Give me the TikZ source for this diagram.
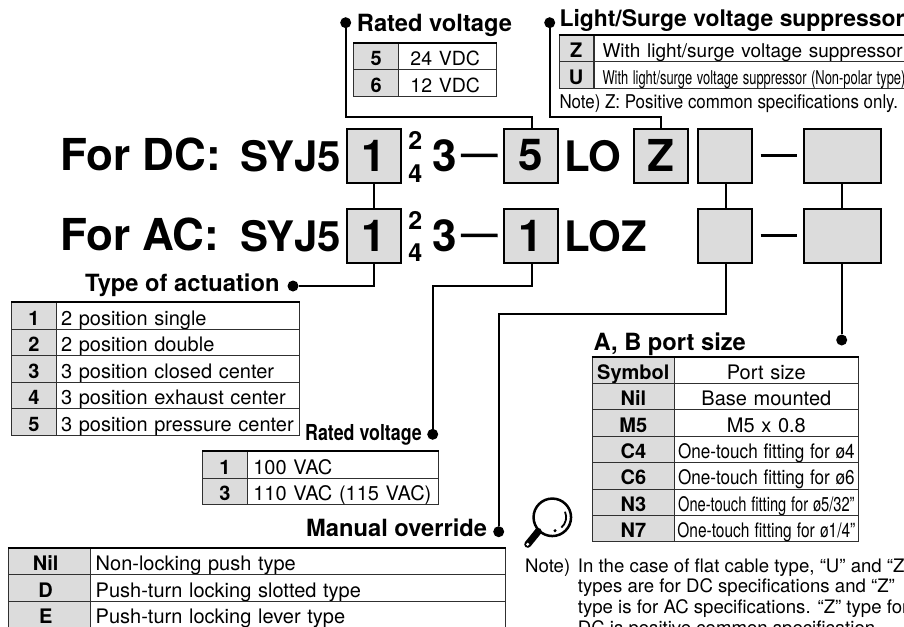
\documentclass[tikz,border=0pt]{standalone}
\usepackage{fontspec}
\setmainfont{TeX Gyre Heros}
\tikzset{
    bigtext/.style={font=\fontsize{44}{44}\selectfont\bfseries, inner sep=0pt, anchor=base west},
    codetext/.style={font=\fontsize{42}{42}\selectfont\bfseries, inner sep=0pt, anchor=base west},
    smalltext/.style={font=\fontsize{25}{25}\selectfont\bfseries, inner sep=0pt},
    head/.style={font=\fontsize{23.7}{24}\selectfont\bfseries, inner sep=0pt, anchor=base west},
    notetext/.style={font=\fontsize{18.6}{20}\selectfont, inner sep=0pt, anchor=base west},
    codebox/.style={draw, line width=2pt, fill=cellgray, inner sep=0pt, minimum height=54,
        font=\fontsize{44}{44}\selectfont\bfseries},
    link/.style={line width=2pt},
    dashline/.style={line width=3.5pt},
    dot/.style={circle, fill=black, inner sep=0pt, minimum size=11},
    keycell/.style={draw=tablegray, line width=1pt, fill=cellgray, inner sep=0pt, minimum height=26.5,
        text height=18, text depth=0, font=\fontsize{20}{20}\selectfont\bfseries},
    valcell/.style={draw=tablegray, line width=1pt, fill=white, inner ysep=0pt, inner xsep=5pt, minimum height=26.5,
        text height=18, text depth=0, font=\fontsize{20}{20}\selectfont},
    toprule/.style={line width=2.2pt}
}
\definecolor{cellgray}{HTML}{DCDCDC}
\definecolor{tablegray}{HTML}{303030}
\begin{document}
\begin{tikzpicture}[x=1pt,y=-1pt]
    \useasboundingbox (0,0) rectangle (904,626);
    \clip (0,0) rectangle (904,626);

    \node[bigtext] (forDC) at (60,170) {For DC:};
    \node[bigtext] (forAC) at (60,250.7) {For AC:};
    \node[codetext] (seriesDC) at (240,171) {SYJ5};
    \node[codetext] (seriesAC) at (240,251) {SYJ5};

    \node[codebox, minimum width=54] (typeDC) at (373.5,155.5) {1};
    \node[codebox, minimum width=54] (typeAC) at (373.5,235.5) {1};
    \node[smalltext] (twoDC) at (415.3,140.7) {2};
    \node[smalltext] (fourDC) at (415.3,173.3) {4};
    \node[smalltext] (twoAC) at (415.3,220.7) {2};
    \node[smalltext] (fourAC) at (415.3,252.3) {4};
    \node[bigtext] (threeDC) at (432,171) {3};
    \node[bigtext] (threeAC) at (432,251) {3};
    \node[codebox, minimum width=54] (voltDC) at (530.7,155.5) {5};
    \node[codebox, minimum width=54] (voltAC) at (530.7,235.5) {1};
    \node[codetext] (loDC) at (564,171) {LO};
    \node[codetext] (lozAC) at (564,251) {LOZ};
    \node[codebox, minimum width=54] (lightDC) at (660.5,155.5) {Z};
    \node[codebox, minimum width=54] (manualDC) at (724.5,155.5) {};
    \node[codebox, minimum width=54] (manualAC) at (724.5,235.5) {};
    \node[codebox, minimum width=76.7] (portDC) at (842.7,155.5) {};
    \node[codebox, minimum width=76.7] (portAC) at (842.7,235.5) {};

    \draw[dashline] ([xshift=4]threeDC.east) -- ([xshift=-5]voltDC.west);
    \draw[dashline] ([xshift=4]threeAC.east) -- ([xshift=-5]voltAC.west);
    \draw[dashline] ([xshift=8]manualDC.east) -- ([xshift=-6]portDC.west);
    \draw[dashline] ([xshift=8]manualAC.east) -- ([xshift=-6]portAC.west);

    \node[dot] (dotRatedDC) at (345.7,22.7) {};
    \node[dot] (dotLight) at (549.7,22.7) {};
    \node[dot] (dotType) at (293,286) {};
    \node[dot] (dotRatedAC) at (432.7,434.3) {};
    \node[dot] (dotManual) at (498.7,531.7) {};
    \node[dot] (dotPort) at (841.7,340) {};
    \coordinate (bendRatedDC) at (345.7,117.3);
    \coordinate (bendLight) at (549.7,117.3);
    \coordinate (bendRatedAC) at (432.7,285.5);
    \coordinate (bendManual) at (498.7,314.3);

    \draw[link] (typeDC) -- (typeAC);
    \draw[link] ([xshift=1.5]manualDC.south) -- ([xshift=1.5]manualAC.north);
    \draw[link] ([xshift=-1]portDC.south) -- ([xshift=-1]portAC.north);
    \draw[link] (typeAC) |- (dotType);
    \draw[link] (dotRatedDC) -- (bendRatedDC) -| ([xshift=1.5]voltDC.north);
    \draw[link] (dotLight) -- (bendLight) -| (lightDC);
    \draw[link] ([xshift=1.5]voltAC.south) |- (bendRatedAC) -- (dotRatedAC);
    \draw[link] ([xshift=1.5]manualAC.south) |- (bendManual) -- (dotManual);
    \draw[link] ([xshift=-1]portAC.south) -- (dotPort);

    \node[head] (headRatedDC) at (356.7,32) {Rated voltage};
    \node[head, font=\fontsize{22.9}{24}\selectfont\bfseries] (headLight) at (559.3,26.7) {Light/Surge voltage suppressor};
    \node[head] (headType) at (85,291.7) {Type of actuation};
    \node[head, font=\fontsize{22}{24}\selectfont\bfseries] (headRatedAC) at (305,440)
    {\scalebox{.81}[1]{Rated voltage}};
    \node[head] (headManual) at (306,536.7) {Manual override};
    \node[head] (headPort) at (593.3,350) {A, B port size};

    \foreach \k/\t [count=\i from 0] in {5/24 VDC, 6/12 VDC} {
        \node[keycell, minimum width=44.7] (ratedKey\i) at (376.3,{56.55+26.5*\i}) {\k};
        \node[valcell, text width=88, align=center] (ratedVal\i) at (447.7,{56.55+26.5*\i})
        {\fontsize{19.5}{20}\selectfont\hspace{-5pt}\t};
    }
    \draw[toprule] (ratedKey0.north west) -- (ratedVal0.north east);

    \foreach \k/\t [count=\i from 0] in {Z/{\fontsize{19}{20}\selectfont With light/surge voltage suppressor},
        U/{\fontsize{19}{20}\selectfont\scalebox{.68}[1]{With light/surge voltage suppressor (Non-polar type)}}} {
        \node[keycell, minimum width=33.7] (lightKey\i) at (576.15,{48.4+26.8*\i}) {\k};
        \node[valcell, inner xsep=7.7pt, text width=310, align=left] (lightVal\i) at (757.5,{48.4+26.8*\i}) {\t};
    }
    \draw[toprule] (lightKey0.north west) -- (lightVal0.north east);
    \node[notetext, font=\fontsize{19}{20}\selectfont] (noteLight) at (559.3,108)
    {\scalebox{.89}[1]{Note) Z: Positive common specifications only.}};

    \foreach \k/\t [count=\i from 0] in {1/2 position single, 2/2 position double,
        3/3 position closed center, 4/3 position exhaust center, 5/3 position pressure center} {
        \node[keycell, minimum width=44.3] (typeKey\i) at (33.85,{316+26.5*\i}) {\k};
        \node[valcell, text width=233.3, align=left] (typeVal\i) at (177.65,{316+26.5*\i}) {\t};
    }
    \draw[toprule] (typeKey0.north west) -- (typeVal0.north east);

    \foreach \k/\t [count=\i from 0] in {1/100 VAC, 3/110 VAC (115 VAC)} {
        \node[keycell, minimum width=44.3] (acKey\i) at (224.85,{465+26.5*\i}) {\k};
        \node[valcell, inner xsep=6.3pt, text width=178.7, align=left] (acVal\i) at (342.65,{465+26.5*\i}) {\t};
    }
    \draw[toprule] (acKey0.north west) -- (acVal0.north east);

    \foreach \k/\t [count=\i from 0] in {Nil/Non-locking push type, D/Push-turn locking slotted type,
        E/Push-turn locking lever type} {
        \node[keycell, minimum width=82.4] (manualKey\i) at (49.5,{561.6+26.6*\i}) {\hspace{-7.6pt}\k};
        \node[valcell, text width=404.3, align=left] (manualVal\i) at (297.85,{561.6+26.6*\i}) {\t};
    }
    \draw[toprule] (manualKey0.north west) -- (manualVal0.north east);

    \foreach \k/\t [count=\i from 0] in {Symbol/Port size, Nil/Base mounted, M5/M5 x 0.8,
        C4/{\scalebox{.856}[1]{One-touch fitting for ø4}}, C6/{\scalebox{.856}[1]{One-touch fitting for ø6}},
        N3/{\scalebox{.733}[1]{One-touch fitting for ø5/32"}}, N7/{\scalebox{.775}[1]{One-touch fitting for ø1/4"}}} {
        \node[keycell, minimum width=82.7] (portKey\i) at (633.35,{370.5+26.35*\i}) {\k};
        \node[valcell, inner xsep=0pt, text width=183.3, align=center] (portVal\i) at (766.35,{370.5+26.35*\i}) {\t};
    }
    \draw[line width=1.5pt] (portKey0.north west) -- (portVal0.north east);

    \node[notetext] (noteMark) at (525,572) {Note)};
    \foreach \t [count=\i from 0] in {{In the case of flat cable type, “U” and “Z”},
        {types are for DC specifications and “Z”}, {type is for AC specifications. “Z” type for},
        {DC is positive common specification.}} {
        \node[notetext] (noteLine\i) at (577.7,{572+20.9*\i}) {\t};
    }

    \node[circle, draw, line width=2.5pt, fill=white, inner sep=0pt, minimum size=37.5] (lens) at (552.3,517.3) {};
    \coordinate (handleEnd) at (527.7,544.3);
    \draw[line width=7pt, line cap=round] (lens.225) -- (handleEnd);
    \node[circle, fill=white, inner sep=0pt, minimum size=3.4] (handleHole) at (handleEnd) {};
    \draw[line width=1.8pt] (565,511.7) arc[start angle=-24, end angle=50, radius=13.5];
    \node[circle, fill=black, inner sep=0pt, minimum size=3.4] (lensDot) at (555,530.7) {};
\end{tikzpicture}
\end{document}
